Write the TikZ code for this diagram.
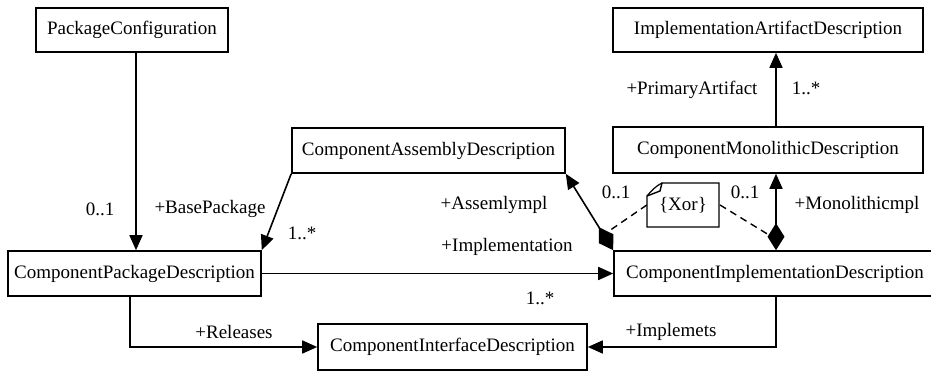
\documentclass[tikz,border=0pt]{standalone}
\usepackage{fontspec}
\setmainfont{Liberation Serif}
\usetikzlibrary{arrows.meta,calc}
\begin{document}
\begin{tikzpicture}[x=1pt,y=-1pt,
  txt/.style={font=\fontsize{19}{22}\selectfont},
  box/.style={txt,draw,line width=1.6pt,inner sep=0pt,minimum height=44pt},
  lbl/.style={txt,inner sep=0pt},
  conn/.style={line width=1.6pt},
  tip/.style={-{Triangle[length=15pt,width=13pt]}},
  comp/.style={{Diamond[length=27pt,width=17pt]}-{Triangle[length=15pt,width=13pt]}},
  link/.style={line width=1.4pt,dash pattern=on 7pt off 5pt}
]
\clip (0,0) rectangle (931,371);
\fill[white] (0,0) rectangle (931,371);

% classes
\node[box,minimum width=192pt] (pc)   at (132,30)    {PackageConfiguration};
\node[box,minimum width=273pt,minimum height=45pt] (cad) at (428.5,150.5) {ComponentAssemblyDescription};
\node[box,minimum width=310pt] (iad)  at (768,30)    {ImplementationArtifactDescription};
\node[box,minimum width=310pt,minimum height=46pt] (cmd) at (768,150) {ComponentMonolithicDescription};
\node[box,minimum width=322pt,minimum height=45pt] (cid) at (775,273.5) {ComponentImplementationDescription};
\node[box,minimum width=253pt,minimum height=45pt] (cpd)  at (134.5,273.5) {ComponentPackageDescription};
\node[box,minimum width=269pt,minimum height=46pt] (cif) at (452.5,347) {ComponentInterfaceDescription};

% x positions of the vertical connectors
\coordinate (xa) at (136,0);
\coordinate (xb) at (130,0);
\coordinate (xc) at (776,0);

% associations
\draw[conn,tip] (pc.south -| xa) -- (cpd.north -| xa);
\draw[conn,tip] (cad.south west) -- (cpd.north east);
\draw[conn,tip] (cpd.east) -- (cpd.east -| cid.west);
\draw[conn,tip] (cpd.south -| xb) |- (cif.west);
\draw[conn,tip] (cid.south -| xc) |- (cif.east);
\draw[conn,tip] (cmd.north -| xc) -- (iad.south -| xc);

% compositions
\draw[conn,comp] (cid.north west) -- (cad.south east);
\draw[conn,comp] (cid.north -| xc) -- (cmd.south -| xc);

% xor constraint note
\draw[line width=1.4pt,fill=white] (662,183) -- (719,183) -- (719,227) -- (647,227) -- (647,196) -- (660,191) -- cycle;
\draw[line width=1.2pt] (647,196) .. controls (652,190) and (656,186) .. (662,183);
\node[lbl,minimum width=72pt,minimum height=44pt] (xor) at (683,205) {\{Xor\}};
\coordinate (dl) at (609,231);
\coordinate (dr) at (769,235);
\draw[link] (xor.west |- 0,205) -- (dl);
\draw[link] (720,205) -- (dr);

% role names and multiplicities
\node[lbl] (m1) at (100,209) {0..1};
\node[lbl] (r1) at (210,209) {+BasePackage};
\node[lbl] (m2) at (302,233) {1..*};
\node[lbl] (r2) at (494,205) {+Assemlympl};
\node[lbl] (r3) at (507,247) {+Implementation};
\node[lbl] (m3) at (616,192) {0..1};
\node[lbl] (m4) at (745,192) {0..1};
\node[lbl] (r4) at (857,205) {+Monolithicmpl};
\node[lbl] (r5) at (692,90)  {+PrimaryArtifact};
\node[lbl] (m5) at (806,88)  {1..*};
\node[lbl] (m6) at (540,298) {1..*};
\node[lbl] (r6) at (234,332) {+Releases};
\node[lbl] (r7) at (671,332) {+Implemets};
\end{tikzpicture}
\end{document}
